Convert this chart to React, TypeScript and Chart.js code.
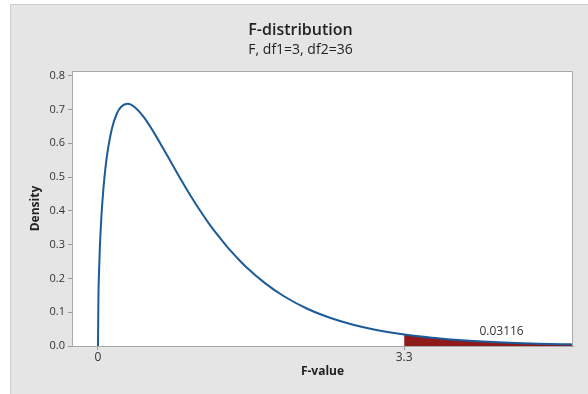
import React, { useEffect, useRef } from 'react';
import { Chart, registerables } from 'chart.js';

Chart.register(...registerables);

// F-values (x) and density (y)
const F_VALUES = [0, 0.005, 0.01, 0.02, 0.03, 0.04, 0.06, 0.08, 0.1, 0.15, 0.2, 0.25, 0.32, 0.4, 0.5, 0.6, 0.7, 0.8, 0.9, 1.0, 1.1, 1.2, 1.3, 1.4, 1.5, 1.6, 1.8, 2.0, 2.25, 2.5, 2.75, 3.0, 3.3, 3.6, 3.8, 4.0, 4.25, 4.5, 4.75, 5.0, 5.12];
const DENSITY = [0, 0.148, 0.208, 0.29, 0.349, 0.397, 0.47, 0.526, 0.569, 0.643, 0.686, 0.708, 0.717, 0.706, 0.675, 0.633, 0.586, 0.538, 0.49, 0.444, 0.401, 0.361, 0.325, 0.291, 0.261, 0.233, 0.186, 0.148, 0.111, 0.0836, 0.0628, 0.0473, 0.0337, 0.0241, 0.0193, 0.0155, 0.0118, 0.009, 0.0069, 0.0053, 0.0047];

const CRITICAL_F = 3.3;
const TAIL_PROB_LABEL = '0.03116';
const LABEL_POS = { x: 4.35, y: 0.044 };

const X_TICKS = [0, 3.3];
const Y_TICKS = [0, 0.1, 0.2, 0.3, 0.4, 0.5, 0.6, 0.7, 0.8];

const X_RANGE = { min: -0.28, max: 5.12 };
const Y_RANGE = { min: 0, max: 0.814 };

const TITLE = 'F-distribution';
const SUBTITLE = 'F, df1=3, df2=36';
const X_TITLE = 'F-value';
const Y_TITLE = 'Density';

const FONT = "'Open Sans', 'Noto Sans', 'DejaVu Sans', sans-serif";
const LINE_COLOR = '#1c5b98';
const TAIL_COLOR = '#8e1a1a';

export default function App() {
  const ref = useRef<HTMLCanvasElement | null>(null);

  useEffect(() => {
    document.body.style.margin = '0';
    const canvas = ref.current;
    if (!canvas) return;

    const curve = F_VALUES.map((x, i) => ({ x, y: DENSITY[i] }));
    const tail = curve.filter((p) => p.x >= CRITICAL_F);

    const bgPlugin = {
      id: 'bgPlugin',
      beforeDraw(chart: any) {
        const { ctx, chartArea, width, height } = chart;
        ctx.save();
        ctx.fillStyle = '#ffffff';
        ctx.fillRect(0, 0, width, height);
        ctx.fillStyle = '#e5e5e5';
        ctx.fillRect(11, 4, width - 11, height - 4);
        ctx.strokeStyle = '#cdcdcd';
        ctx.lineWidth = 1;
        ctx.beginPath();
        ctx.moveTo(10.5, height);
        ctx.lineTo(10.5, 4.5);
        ctx.lineTo(width, 4.5);
        ctx.stroke();
        ctx.fillStyle = '#ffffff';
        ctx.fillRect(chartArea.left, chartArea.top, chartArea.right - chartArea.left, chartArea.bottom - chartArea.top);
        ctx.restore();
      },
      afterDraw(chart: any) {
        const { ctx, chartArea, scales } = chart;
        ctx.save();
        ctx.strokeStyle = '#a9a9a9';
        ctx.lineWidth = 1;
        ctx.beginPath();
        ctx.moveTo(Math.round(chartArea.left) + 0.5, Math.round(chartArea.top) + 0.5);
        ctx.lineTo(Math.round(chartArea.right) - 0.5, Math.round(chartArea.top) + 0.5);
        ctx.lineTo(Math.round(chartArea.right) - 0.5, Math.round(chartArea.bottom));
        ctx.stroke();
        ctx.fillStyle = '#333333';
        ctx.font = `12px ${FONT}`;
        ctx.textAlign = 'center';
        ctx.textBaseline = 'middle';
        ctx.fillText(TAIL_PROB_LABEL, scales.x.getPixelForValue(LABEL_POS.x), scales.y.getPixelForValue(LABEL_POS.y));
        ctx.restore();
      },
    };

    const chart = new Chart(canvas, {
      type: 'line',
      data: {
        datasets: [
          {
            data: curve,
            borderColor: LINE_COLOR,
            borderWidth: 2,
            pointRadius: 0,
            fill: false,
            cubicInterpolationMode: 'monotone',
          },
          {
            data: tail,
            borderWidth: 0,
            borderColor: 'rgba(0,0,0,0)',
            backgroundColor: TAIL_COLOR,
            pointRadius: 0,
            fill: 'origin',
            cubicInterpolationMode: 'monotone',
          },
        ],
      },
      options: {
        responsive: false,
        animation: false,
        layout: { padding: { left: 28, right: 15, top: 0, bottom: 15 } },
        plugins: {
          legend: { display: false },
          tooltip: { enabled: false },
          title: {
            display: true,
            text: TITLE,
            color: '#222222',
            font: { family: FONT, size: 16, weight: '600' },
            padding: { top: 21, bottom: 0 },
          },
          subtitle: {
            display: true,
            text: SUBTITLE,
            color: '#222222',
            font: { family: FONT, size: 14 },
            padding: { top: 1, bottom: 13 },
          },
        },
        scales: {
          x: {
            type: 'linear',
            min: X_RANGE.min,
            max: X_RANGE.max,
            afterBuildTicks: (s: any) => {
              s.ticks = X_TICKS.map((v) => ({ value: v }));
            },
            afterFit: (s: any) => {
              s.height = 33;
            },
            ticks: {
              color: '#333333',
              font: { family: FONT, size: 12 },
              padding: 0,
              autoSkip: false,
              maxRotation: 0,
              callback: (v: any) => String(v),
            },
            grid: { drawOnChartArea: false, drawTicks: true, tickLength: 4, color: '#999999' },
            border: { display: true, color: '#a9a9a9' },
            title: {
              display: true,
              text: X_TITLE,
              color: '#222222',
              font: { family: FONT, size: 12, weight: 'bold' },
              padding: 0,
            },
          },
          y: {
            type: 'linear',
            min: Y_RANGE.min,
            max: Y_RANGE.max,
            afterBuildTicks: (s: any) => {
              s.ticks = Y_TICKS.map((v) => ({ value: v }));
            },
            afterFit: (s: any) => {
              s.width = 44;
            },
            ticks: {
              color: '#333333',
              font: { family: FONT, size: 11 },
              padding: 3,
              callback: (v: any) => Number(v).toFixed(1),
            },
            grid: { drawOnChartArea: false, drawTicks: true, tickLength: 4, color: '#999999' },
            border: { display: true, color: '#a9a9a9' },
            title: {
              display: true,
              text: Y_TITLE,
              color: '#222222',
              font: { family: FONT, size: 12, weight: 'bold' },
              padding: 0,
            },
          },
        },
      },
      plugins: [bgPlugin],
    } as any);

    return () => chart.destroy();
  }, []);

  return (
    <div style={{ width: 588, height: 394 }}>
      <canvas ref={ref} width={588} height={394} style={{ display: 'block', width: 588, height: 394 }} />
    </div>
  );
}
